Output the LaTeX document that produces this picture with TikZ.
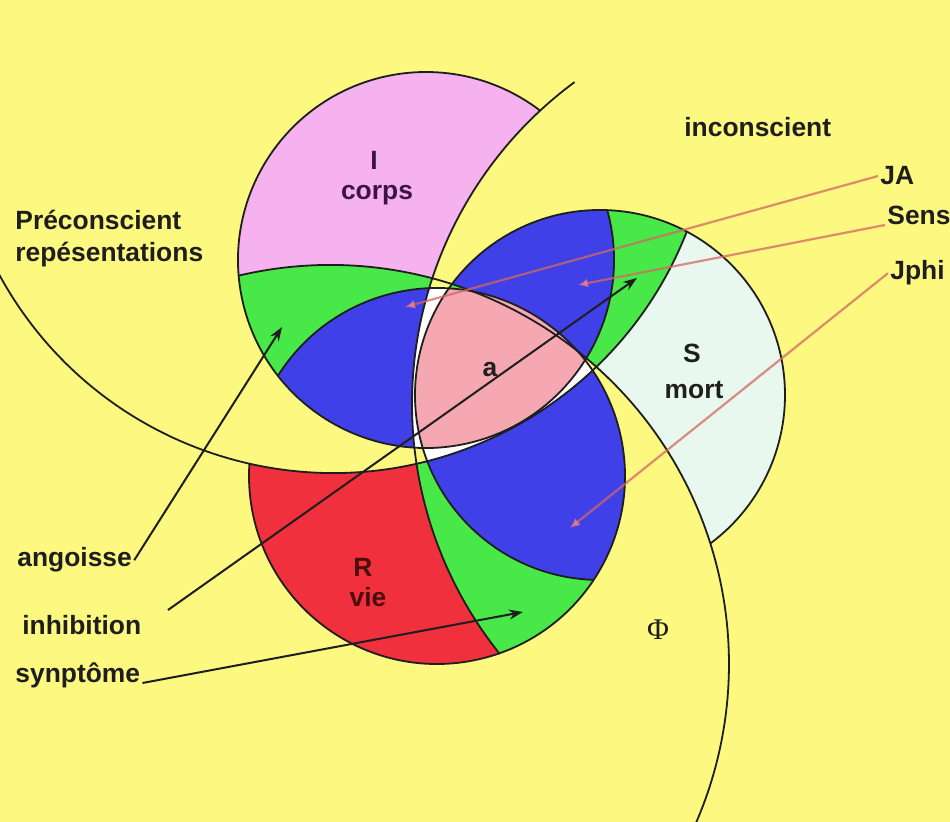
\documentclass[tikz,border=0pt]{standalone}
\usepackage{fontspec}
\setmainfont{Liberation Sans}
\newfontfamily\phifont{Liberation Serif}
\usetikzlibrary{arrows.meta}

\definecolor{bgy}{RGB}{252,248,128}
\definecolor{pinkI}{RGB}{246,178,238}
\definecolor{grn}{RGB}{72,232,72}
\definecolor{blu}{RGB}{64,64,232}
\definecolor{pinka}{RGB}{245,168,178}
\definecolor{mint}{RGB}{232,248,238}
\definecolor{redR}{RGB}{240,48,60}
\definecolor{ink}{RGB}{30,30,30}
\definecolor{arrowpink}{RGB}{212,104,96}
\definecolor{headpink}{RGB}{228,120,140}

% clip helpers: inside / outside a circle (pixel coordinates)
\newcommand\kin[3]{\clip (#1,#2) circle[radius=#3];}
\newcommand\kout[3]{\clip (-50,-50) -- (1000,-50) -- (1000,900) -- (-50,900) -- cycle (#1+#3,#2) arc[start angle=0,end angle=-360,radius=#3];}
\newcommand\kinI{\kin{426}{260}{188}}
\newcommand\koutI{\kout{426}{260}{188}}
\newcommand\kinS{\kin{600}{395}{185}}
\newcommand\koutS{\kout{600}{395}{185}}
\newcommand\kinR{\kin{437}{476}{188}}
\newcommand\koutR{\kout{437}{476}{188}}
\newcommand\kinP{\kin{333}{93}{380}}
\newcommand\koutP{\kout{333}{93}{380}}
\newcommand\kinU{\kin{812}{404}{400}}
\newcommand\koutU{\kout{812}{404}{400}}
\newcommand\kinF{\kin{330}{664}{399}}
\newcommand\koutF{\kout{330}{664}{399}}
\newcommand\paint[1]{\fill[#1] (-50,-50) rectangle (1000,900);}

\tikzset{
  outl/.style={draw=ink, line width=0.9pt},
  lbl/.style={font=\bfseries\fontsize{13.2}{16}\selectfont, text=ink, inner sep=1pt},
  blkarrow/.style={draw=ink, line width=1pt, -{Stealth[length=7pt,width=5pt]}},
  pinkarrow/.style={draw=arrowpink, draw opacity=0.75, line width=1.1pt,
     -{Latex[length=5pt,width=4.5pt,fill=headpink,color=headpink]}}
}

\begin{document}
\begin{tikzpicture}[x=0.5pt,y=-0.5pt]
\useasboundingbox (0,0) rectangle (950,822);
\clip (0,0) rectangle (950,822);
\fill[bgy] (0,0) rectangle (950,822);

% ---- single-ring parts ----
\begin{scope}\kinI\koutU\koutF\paint{pinkI}\end{scope}
\begin{scope}\kinI\kinF\koutU\paint{grn}\end{scope}
\begin{scope}\kinS\koutF\koutP\paint{mint}\end{scope}
\begin{scope}\kinS\kinP\koutF\paint{grn}\end{scope}
\begin{scope}\kinR\koutP\koutU\paint{redR}\end{scope}
\begin{scope}\kinR\kinU\koutP\paint{grn}\end{scope}
% ---- I and S ----
\begin{scope}\kinI\kinS\paint{grn}\end{scope}
\begin{scope}\kinI\kinS\koutF\paint{blu}\end{scope}
% ---- I and R ----
\begin{scope}\kinI\kinR\paint{white}\end{scope}
\begin{scope}\kinI\kinR\koutU\paint{blu}\end{scope}
\begin{scope}\kinI\kinR\koutP\paint{blu}\end{scope}
% ---- R and S ----
\begin{scope}\kinR\kinS\paint{white}\end{scope}
\begin{scope}\kinR\kinS\koutP\paint{blu}\end{scope}
\begin{scope}\kinR\kinS\koutF\paint{blu}\end{scope}
% ---- centre ----
\begin{scope}\kinI\kinS\kinR\paint{pinka}\end{scope}

% ---- outlines ----
\draw[outl] (426,260) ++(-15.4:188) arc[start angle=-15.4,end angle=307.4,radius=188];
\draw[outl] (600,395) ++(91.9:185) arc[start angle=91.9,end angle=413.4,radius=185];
\draw[outl] (437,476) ++(212.2:188) arc[start angle=212.2,end angle=543.75,radius=188];
\draw[outl] (333,93) ++(152:380) arc[start angle=152,end angle=21.5,radius=380];
\draw[outl] (812,404) ++(233.6:400) arc[start angle=233.6,end angle=141.3,radius=400];
\draw[outl] (330,664) ++(256.8:399) arc[start angle=256.8,end angle=390,radius=399];

% ---- region labels ----
\node[lbl, anchor=base, text={rgb,255:red,60;green,20;blue,70}] (lI) at (374,170) {I};
\node[lbl, anchor=base, text={rgb,255:red,60;green,20;blue,70}] (lcorps) at (377,200) {corps};
\node[lbl, anchor=base] (la) at (490,377) {a};
\node[lbl, anchor=base] (lS) at (692,363) {S};
\node[lbl, anchor=base] (lmort) at (694,399) {mort};
\node[lbl, anchor=base, text={rgb,255:red,75;green,12;blue,12}] (lR) at (363,577) {R};
\node[lbl, anchor=base, text={rgb,255:red,75;green,12;blue,12}] (lvie) at (368,607) {vie};
\node[inner sep=1pt, text=ink, font=\phifont\fontsize{15}{18}\selectfont] (phi) at (658,630) {Φ};

% ---- side labels ----
\node[lbl, anchor=base west] (pre1) at (13,230) {Préconscient};
\node[lbl, anchor=base west] (pre2) at (13,262) {repésentations};
\node[lbl, anchor=base west] (incons) at (682,137) {inconscient};
\node[lbl, anchor=base west] (ja) at (878,185) {JA};
\node[lbl, anchor=base west] (sens) at (885,225) {Sens};
\node[lbl, anchor=base west] (jphi) at (888,280) {Jphi};
\node[lbl, anchor=base west] (angoisse) at (15,567) {angoisse};
\node[lbl, anchor=base west] (inhib) at (20,635) {inhibition};
\node[lbl, anchor=base west] (symp) at (13,683) {synptôme};

% ---- arrow end points ----
\coordinate (tipJA) at (405,307);
\coordinate (tipSens) at (578,285);
\coordinate (tipJphi) at (570,528);
\coordinate (tipAng) at (282,327);
\coordinate (inhStart) at (168,610);
\coordinate (tipInh) at (637,278);
\coordinate (tipSym) at (523,612);

% ---- arrows ----
\draw[pinkarrow] (ja.west) -- (tipJA);
\draw[pinkarrow] (sens.base west) -- (tipSens);
\draw[pinkarrow] (jphi.west) -- (tipJphi);
\draw[blkarrow] (angoisse.east) -- (tipAng);
\draw[blkarrow] (inhStart) -- (tipInh);
\draw[blkarrow] (symp.base east) -- (tipSym);
\end{tikzpicture}
\end{document}
